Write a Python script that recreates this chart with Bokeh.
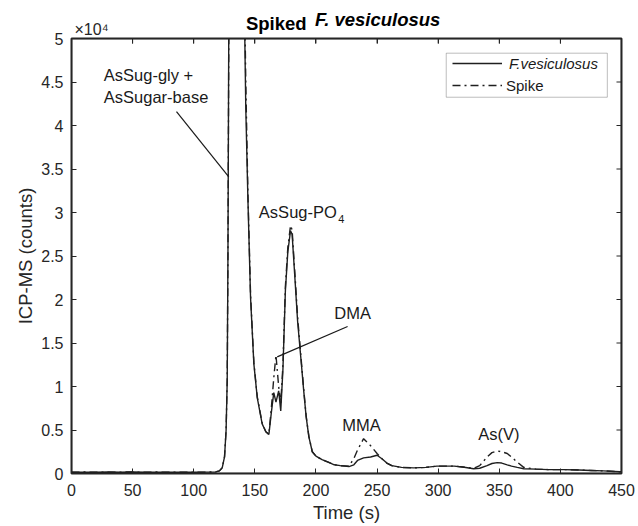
from bokeh.plotting import figure
from bokeh.models import (LinearAxis, Range1d, Label, Arrow, BoxAnnotation, Legend, LegendItem,
                          FixedTicker, CustomJSTickFormatter)
from bokeh.embed import file_html
from bokeh.resources import INLINE

# ---------------- data ----------------
time_s = [0, 10, 20, 30, 40, 50, 60, 70, 80, 90,
          100, 110, 118, 121, 123.3, 125.2, 126.5, 127.4, 128.0, 128.7,
          130, 134, 138, 141, 141.8, 142.6, 144.3, 146.5, 149.2, 152,
          156, 159, 161.5, 163.5, 165.5, 167.3, 169.5, 171.2, 173, 175,
          177, 179.2, 180.5, 183, 185, 187.5, 190, 192, 194.2, 197,
          200, 205, 210, 215, 220, 227, 231, 234, 239, 244.7,
          250, 254, 258, 262, 270, 280, 290, 299, 313, 320,
          329, 334, 340, 344, 348.3, 352, 356.5, 360, 364.7, 370,
          380, 390, 403, 415, 425, 435, 449, 450]

f_vesiculosus = [150, 160, 150, 170, 150, 170, 150, 160, 150, 160,
                 150, 160, 180, 300, 650, 1900, 5000, 10700, 25000, 52000,
                 90000, 140000, 110000, 62000, 50000, 42000, 31700, 20200, 12600, 8700,
                 5700, 4800, 4500, 7000, 9300, 8200, 9500, 7200, 12000, 21000,
                 25500, 27900, 27500, 22000, 17500, 13500, 9500, 6500, 4200, 2500,
                 2000, 1600, 1300, 1000, 900, 800, 1000, 1500, 1800, 1900,
                 2100, 1700, 1200, 900, 700, 650, 700, 850, 850, 750,
                 550, 600, 900, 1150, 1250, 1200, 1000, 850, 700, 550,
                 500, 450, 450, 400, 350, 300, 200, 200]

spike = [150, 170, 150, 160, 160, 170, 150, 170, 150, 160,
         160, 160, 180, 300, 650, 1900, 5000, 10700, 25000, 50000,
         90000, 140000, 112000, 66000, 53000, 45000, 32500, 20600, 12800, 8800,
         5800, 4800, 4500, 7500, 11000, 13600, 10000, 8000, 12500, 21500,
         26000, 28500, 28000, 22500, 18000, 13800, 9700, 6600, 4300, 2500,
         2000, 1600, 1300, 1000, 900, 850, 1700, 2700, 4000, 3200,
         2300, 1700, 1200, 900, 700, 650, 700, 850, 850, 750,
         600, 900, 1900, 2400, 2600, 2500, 2300, 1900, 1300, 700,
         500, 450, 450, 400, 350, 300, 200, 200]

x_ticks = [0, 50, 100, 150, 200, 250, 300, 350, 400, 450]
y_ticks = [0, 5000, 10000, 15000, 20000, 25000, 30000, 35000, 40000, 45000, 50000]

series_names = ["F.vesiculosus", "Spike"]
title_parts = ["Spiked", "F. vesiculosus"]
exponent_text = "\u00d710\u2074"

TITLE_X = [167.5, 250.5]

FONT = "Liberation Sans"
AX = "#262626"
INK = "#1a1a1a"
X_MAX = 450
Y_MAX = 50000
TICK_LEN_S = 4.1     # 5 px in seconds
TICK_LEN_C = 575     # 5 px in counts

p = figure(width=638, height=526, x_range=Range1d(0, X_MAX), y_range=Range1d(0, Y_MAX),
           output_backend="svg", toolbar_location=None,
           min_border_left=71, min_border_right=17, min_border_top=38, min_border_bottom=53)
p.title.visible = False
p.xgrid.visible = False
p.ygrid.visible = False
p.background_fill_color = "white"
p.border_fill_color = "white"
p.outline_line_color = AX
p.outline_line_width = 2

fmt = CustomJSTickFormatter(code="return (tick/10000).toString();")

for ax in p.xaxis:
    ax.ticker = FixedTicker(ticks=x_ticks)
for ax in p.yaxis:
    ax.ticker = FixedTicker(ticks=y_ticks)
    ax.formatter = fmt

for ax in list(p.xaxis) + list(p.yaxis):
    ax.major_tick_in = 5
    ax.major_tick_out = 0
    ax.minor_tick_line_color = None
    ax.axis_line_color = AX
    ax.major_tick_line_color = AX
    ax.major_label_text_font = FONT
    ax.major_label_text_font_size = "16px"
    ax.major_label_text_color = AX

p.xaxis.major_label_standoff = 10
p.yaxis.major_label_standoff = 8
p.yaxis.axis_label = "ICP-MS (counts)"
p.xaxis.axis_label = "Time (s)"
for ax in list(p.xaxis) + list(p.yaxis):
    ax.axis_label_text_font = FONT
    ax.axis_label_text_font_size = "18.5px"
    ax.axis_label_text_font_style = "normal"
    ax.axis_label_text_color = AX
p.yaxis.axis_label_standoff = 2
p.xaxis.axis_label_standoff = 3

# top axis carries the x10^4 multiplier on its first tick
top_labels = {t: "" for t in x_ticks}
top_labels[x_ticks[0]] = "\u00a0" * 9 + exponent_text
top_ax = LinearAxis(ticker=FixedTicker(ticks=x_ticks), major_label_overrides=top_labels,
                    major_tick_in=5, major_tick_out=0, minor_tick_line_color=None,
                    major_label_standoff=1, axis_line_color=AX, major_tick_line_color=AX,
                    major_label_text_font=FONT, major_label_text_font_size="16px",
                    major_label_text_color=AX)
p.add_layout(top_ax, "above")

def text_axis(x, text, size, style, standoff, color):
    a = LinearAxis(ticker=FixedTicker(ticks=[x]), major_label_overrides={x: text},
                   major_tick_in=0, major_tick_out=0, minor_tick_line_color=None,
                   major_tick_line_color=None, axis_line_color=None,
                   major_label_standoff=standoff, major_label_text_font=FONT,
                   major_label_text_font_size=size, major_label_text_font_style=style,
                   major_label_text_color=color)
    p.add_layout(a, "above")

text_axis(TITLE_X[0], title_parts[0], "18.5px", "bold", -16, "black")
text_axis(TITLE_X[1], title_parts[1], "18.5px", "bold italic", -20, "black")

# box frame drawn as an annotation over the whole data area
p.add_layout(BoxAnnotation(left=0, right=X_MAX, bottom=0, top=Y_MAX,
                           fill_alpha=0, line_color=AX, line_width=2, level="overlay"))

# inward ticks on the top and right edges
n_x, n_y = len(x_ticks), len(y_ticks)
p.segment(x0=[X_MAX] * n_y, y0=y_ticks, x1=[X_MAX - TICK_LEN_S] * n_y, y1=y_ticks,
          line_color=AX, line_width=1)
p.segment(x0=x_ticks, y0=[Y_MAX] * n_x, x1=x_ticks, y1=[Y_MAX - TICK_LEN_C] * n_x,
          line_color=AX, line_width=1)

# ---------------- lines ----------------
r1 = p.line(time_s, f_vesiculosus, line_color="#1f1f1f", line_width=1.4)
r2 = p.line(time_s, spike, line_color="#1f1f1f", line_width=1.4, line_dash="8 4 2 4")

# ---------------- annotations ----------------
def lab(x, y, text, size="16.5px", align="left", style="normal", baseline="middle", color=INK):
    p.add_layout(Label(x=x, y=y, text=text, text_font=FONT, text_font_size=size,
                       text_align=align, text_baseline=baseline, text_font_style=style,
                       text_color=color))

lab(26.4, 45750, "AsSug-gly +")
lab(26.4, 43330, "AsSugar-base")
p.add_layout(Arrow(end=None, x_start=85.9, y_start=41600, x_end=128.7, y_end=34100,
                   line_color=INK, line_width=1.2))

lab(153.3, 30100, "AsSug-PO")
lab(218.3, 29200, "4", size="11px")

lab(230.0, 18450, "DMA", align="center")
p.add_layout(Arrow(end=None, x_start=225.9, y_start=16900, x_end=168.3, y_end=13400,
                   line_color=INK, line_width=1.2))

lab(237.3, 5600, "MMA", align="center")
lab(349.7, 4500, "As(V)", align="center")

# ---------------- legend ----------------
p.add_layout(BoxAnnotation(left=306.6, right=438.4, bottom=43250, top=48310,
                           fill_color="white", fill_alpha=1.0,
                           line_color=AX, line_width=1))

leg1 = Legend(items=[LegendItem(label=series_names[0], renderers=[r1])],
              location=(381, 399.7), padding=0, margin=0, spacing=0,
              glyph_width=50, glyph_height=20, label_height=20, label_standoff=7,
              label_text_font=FONT, label_text_font_size="15px",
              label_text_font_style="italic", label_text_color=INK,
              border_line_color=None, background_fill_alpha=0)
leg2 = Legend(items=[LegendItem(label=series_names[1], renderers=[r2])],
              location=(381, 378), padding=0, margin=0, spacing=0,
              glyph_width=50, glyph_height=20, label_height=20, label_standoff=4,
              label_text_font=FONT, label_text_font_size="15px",
              label_text_font_style="normal", label_text_color=INK,
              border_line_color=None, background_fill_alpha=0)
p.add_layout(leg1)
p.add_layout(leg2)

open("out.html", "w").write(file_html(p, INLINE))
